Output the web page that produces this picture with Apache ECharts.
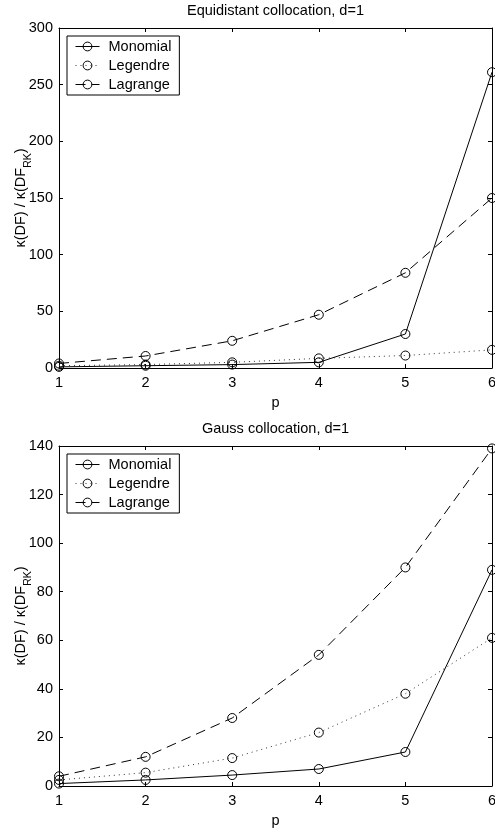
<!DOCTYPE html>
<html>
<head>
<meta charset="utf-8">
<script src="https://cdn.jsdelivr.net/npm/echarts@6/dist/echarts.min.js"></script>
<style>html,body{margin:0;padding:0;background:#fff}#c{width:495px;height:829px}</style>
</head>
<body>
<div id="c"></div>
<script>
const pValues = [1, 2, 3, 4, 5, 6];
const seriesNames = ['Monomial', 'Legendre', 'Lagrange'];
const titles = ['Equidistant collocation, d=1', 'Gauss collocation, d=1'];
// Equidistant collocation
const eqMonomial = [1, 2, 3, 5, 30, 261];
const eqLegendre = [2, 3, 5, 8.5, 11, 16];
const eqLagrange = [4, 10.6, 24, 47, 84, 150];
// Gauss collocation
const gsMonomial = [1, 2.5, 4.5, 7, 14, 89];
const gsLegendre = [2.5, 5.5, 11.5, 22, 38, 61];
const gsLagrange = [4, 12, 28, 54, 90, 139];
const yMax = [300, 140];
const yStep = [50, 20];

const FONT = 'Liberation Sans, Arial, Helvetica, sans-serif';
const FS = 14.5;
const lineTypes = ['solid', [1, 4], [10, 6]];
const lineColors = ['#000', '#333', '#000'];
const groups = [[eqMonomial, eqLegendre, eqLagrange], [gsMonomial, gsLegendre, gsLagrange]];
const gridTops = [28, 446];

const grids = [], xAxes = [], yAxes = [], series = [], legends = [];
gridTops.forEach((top, g) => {
  grids.push({left: 59, right: 3, top: top, height: 340, show: false, containLabel: false, outerBoundsMode: 'none'});
  const axisCommon = {
    type: 'value', min: 1, max: 6, interval: 1, gridIndex: g,
    axisLine: {show: true, onZero: false, lineStyle: {color: '#000', width: 1}},
    axisTick: {show: true, inside: true, length: 4, lineStyle: {color: '#000'}},
    splitLine: {show: false}
  };
  xAxes.push(Object.assign({}, axisCommon, {
    position: 'bottom',
    name: 'p', nameLocation: 'middle', nameGap: 27, nameMoveOverlap: false,
    nameTextStyle: {color: '#000', fontSize: FS, fontFamily: FONT},
    axisLabel: {color: '#000', fontSize: FS, fontFamily: FONT, margin: 7}
  }));
  xAxes.push(Object.assign({}, axisCommon, {
    position: 'top',
    name: titles[g], nameLocation: 'middle', nameGap: 10, nameMoveOverlap: false,
    nameTextStyle: {color: '#000', fontSize: FS, fontFamily: FONT},
    axisLabel: {show: false}
  }));
  const yCommon = {
    type: 'value', min: 0, max: yMax[g], interval: yStep[g], gridIndex: g,
    axisLine: {show: true, onZero: false, lineStyle: {color: '#000', width: 1}},
    axisTick: {show: true, inside: true, length: 4, lineStyle: {color: '#000'}},
    splitLine: {show: false}
  };
  yAxes.push(Object.assign({}, yCommon, {
    position: 'left',
    name: '{a|κ(DF) / κ(DF}{b|RK}{a|)}', nameLocation: 'middle', nameGap: 25, nameRotate: 90,
    nameMoveOverlap: false,
    nameTextStyle: {
      color: '#000', fontFamily: FONT,
      rich: {
        a: {fontSize: FS, fontFamily: FONT, color: '#000', lineHeight: 26},
        b: {fontSize: 10.5, fontFamily: FONT, color: '#000', lineHeight: 8, verticalAlign: 'bottom'}
      }
    },
    axisLabel: {color: '#000', fontSize: FS, fontFamily: FONT, margin: 6}
  }));
  yAxes.push(Object.assign({}, yCommon, {position: 'right', axisLabel: {show: false}}));
  groups[g].forEach((vals, i) => {
    series.push({
      name: seriesNames[i], type: 'line',
      xAxisIndex: 2 * g, yAxisIndex: 2 * g,
      data: pValues.map((p, k) => [p, vals[k]]),
      symbol: 'circle', symbolSize: 9,
      lineStyle: {color: lineColors[i], width: 1, type: lineTypes[i]},
      itemStyle: {color: 'rgba(0,0,0,0)', borderColor: '#000', borderWidth: 1},
      clip: false, animation: false, z: 3 - i
    });
  });
  legends.push({
    data: seriesNames, orient: 'vertical', left: 67, top: top + 8,
    backgroundColor: '#fff', borderColor: '#000', borderWidth: 1,
    padding: [3, 8, 3, 8], itemWidth: 24, itemHeight: 11, itemGap: 4,
    itemStyle: {borderWidth: 1, borderColor: '#000', color: 'rgba(0,0,0,0)'},
    lineStyle: {width: 1},
    textStyle: {color: '#000', fontSize: FS, fontFamily: FONT, lineHeight: 15, padding: [0, 0, 0, 4]},
    selectedMode: false
  });
});

const chart = echarts.init(document.getElementById('c'));
chart.setOption({
  animation: false,
  backgroundColor: '#fff',
  grid: grids, xAxis: xAxes, yAxis: yAxes, series: series, legend: legends
});
</script>
</body>
</html>
